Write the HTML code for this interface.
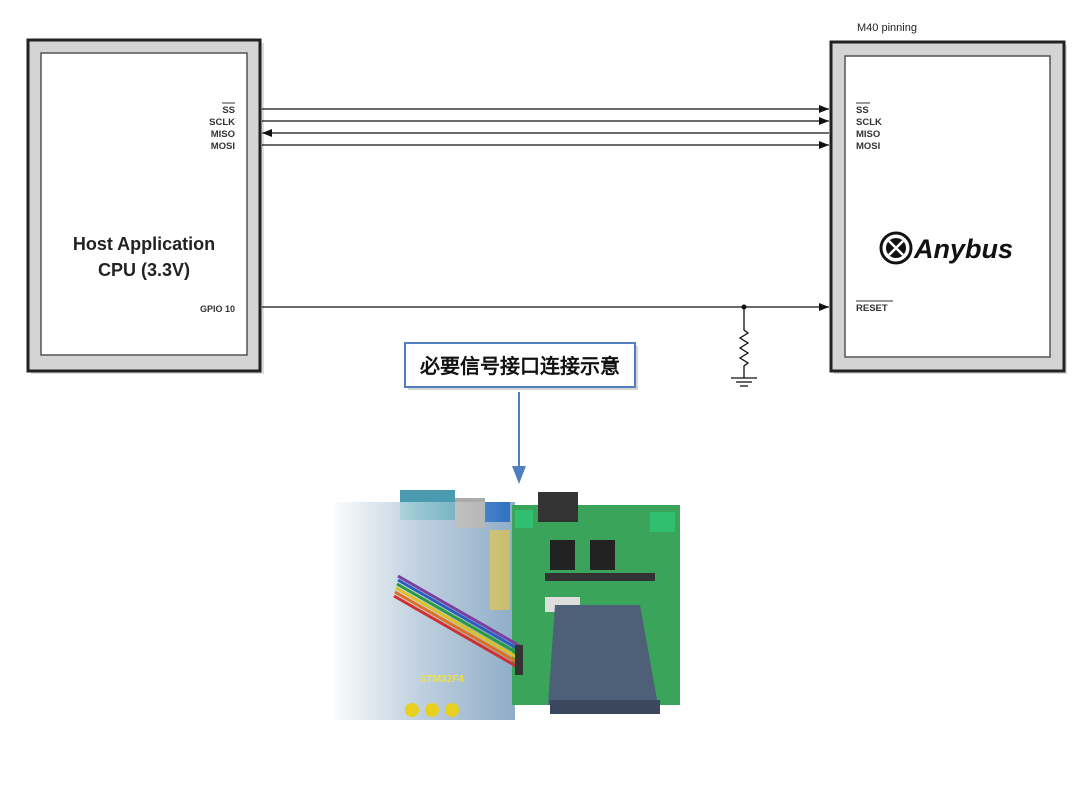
<!DOCTYPE html>
<html><head><meta charset="utf-8"><style>
html,body{margin:0;padding:0;background:#fff;}
svg{display:block;}
text{font-family:"Liberation Sans",Arial,sans-serif;}
</style></head><body>
<svg width="1080" height="787" viewBox="0 0 1080 787" xmlns="http://www.w3.org/2000/svg">
<defs>
<marker id="ar" markerWidth="10" markerHeight="8" refX="10" refY="4" orient="auto" markerUnits="userSpaceOnUse">
<path d="M0,0 L10,4 L0,8 z" fill="#111"/></marker>
<linearGradient id="fade" x1="0" x2="1" y1="0" y2="0">
<stop offset="0" stop-color="#fff" stop-opacity="0.95"/>
<stop offset="0.45" stop-color="#fff" stop-opacity="0.45"/>
<stop offset="1" stop-color="#fff" stop-opacity="0"/>
</linearGradient>
</defs>
<!-- left box -->
<rect x="31" y="43" width="233" height="331" fill="#bbb" opacity="0.5"/>
<rect x="28" y="40" width="232" height="331" fill="#d4d4d4" stroke="#222" stroke-width="3"/>
<rect x="41" y="53" width="206" height="302" fill="#fff" stroke="#555" stroke-width="1.5"/>
<g font-size="9.5" font-weight="bold" fill="#333" text-anchor="end">
<text x="235" y="113">SS</text><line x1="222" y1="103" x2="235" y2="103" stroke="#333" stroke-width="1"/>
<text x="235" y="125">SCLK</text>
<text x="235" y="137">MISO</text>
<text x="235" y="149">MOSI</text>
<text x="235" y="312" font-size="9">GPIO 10</text>
</g>
<text x="144" y="250" font-size="18" font-weight="bold" fill="#222" text-anchor="middle">Host Application</text>
<text x="144" y="276" font-size="18" font-weight="bold" fill="#222" text-anchor="middle">CPU (3.3V)</text>
<!-- right box -->
<text x="857" y="31" font-size="11" fill="#222">M40 pinning</text>
<rect x="834" y="45" width="233" height="329" fill="#bbb" opacity="0.5"/>
<rect x="831" y="42" width="233" height="329" fill="#d4d4d4" stroke="#222" stroke-width="3"/>
<rect x="845" y="56" width="205" height="301" fill="#fff" stroke="#555" stroke-width="1.5"/>
<g font-size="9.5" font-weight="bold" fill="#333">
<text x="856" y="113">SS</text><line x1="856" y1="103" x2="870" y2="103" stroke="#333" stroke-width="1"/>
<text x="856" y="125">SCLK</text>
<text x="856" y="137">MISO</text>
<text x="856" y="149">MOSI</text>
<text x="856" y="311">RESET</text><line x1="856" y1="301" x2="893" y2="301" stroke="#333" stroke-width="1"/>
</g>
<!-- anybus logo -->
<circle cx="896" cy="248" r="15" fill="#fff" stroke="#111" stroke-width="3"/>
<circle cx="896" cy="248" r="10" fill="#111"/>
<path d="M889,241 L903,255 M903,241 L889,255" stroke="#fff" stroke-width="2.5"/>
<text x="914" y="258" font-size="27" font-weight="bold" font-style="italic" fill="#111">Anybus</text>
<!-- lines -->
<g stroke="#111" stroke-width="1.3" fill="none">
<line x1="262" y1="109" x2="829" y2="109" marker-end="url(#ar)"/>
<line x1="262" y1="121" x2="829" y2="121" marker-end="url(#ar)"/>
<line x1="829" y1="133" x2="262" y2="133" marker-end="url(#ar)"/>
<line x1="262" y1="145" x2="829" y2="145" marker-end="url(#ar)"/>
<line x1="262" y1="307" x2="829" y2="307" marker-end="url(#ar)"/>
<polyline points="744,307 744,330 748,333 740,338 748,343 740,348 748,353 740,358 748,363 744,366 744,378"/>
<line x1="731" y1="378" x2="757" y2="378"/>
<line x1="736" y1="382" x2="752" y2="382"/>
<line x1="740" y1="386" x2="748" y2="386"/>
</g>
<circle cx="744" cy="307" r="2.5" fill="#111"/>
<!-- label -->
<rect x="408" y="346" width="230" height="44" fill="#999" opacity="0.4"/>
<rect x="405" y="343" width="230" height="44" fill="#fff" stroke="#4f7fbf" stroke-width="2"/>
<text x="520" y="373" font-size="20" font-weight="bold" fill="#111" text-anchor="middle" font-family="'Liberation Sans','Noto Sans CJK SC',sans-serif">必要信号接口连接示意</text>
<line x1="519" y1="392" x2="519" y2="468" stroke="#4f7fbf" stroke-width="2"/>
<path d="M512,466 L526,466 L519,484 z" fill="#4f7fbf"/>
<!-- photo approx -->
<rect x="335" y="502" width="180" height="218" fill="#8fadc8"/>
<rect x="400" y="490" width="55" height="30" fill="#4a9ab0"/>
<rect x="455" y="498" width="30" height="30" fill="#aaa"/>
<rect x="485" y="502" width="25" height="20" fill="#2a6fc0"/>
<rect x="490" y="530" width="20" height="80" fill="#e0c040" opacity="0.7"/>
<rect x="335" y="502" width="180" height="218" fill="url(#fade)"/>
<rect x="512" y="505" width="168" height="200" fill="#3aa55a"/>
<rect x="538" y="492" width="40" height="30" fill="#333"/>
<rect x="550" y="540" width="25" height="30" fill="#222"/>
<rect x="590" y="540" width="25" height="30" fill="#222"/>
<rect x="545" y="573" width="110" height="8" fill="#333"/>
<rect x="515" y="510" width="18" height="18" fill="#2fbf6f"/>
<rect x="650" y="512" width="25" height="20" fill="#2fbf6f"/>
<rect x="545" y="597" width="35" height="15" fill="#ddd"/>
<path d="M555,605 L640,605 L658,705 L548,705 z" fill="#4e5f78"/>
<rect x="550" y="700" width="110" height="14" fill="#3a475c"/>
<g stroke-width="3" fill="none">
<path d="M398,576 L520,646" stroke="#7a3fa0"/>
<path d="M398,580 L520,650" stroke="#2a5fc0"/>
<path d="M397,584 L519,654" stroke="#2a9a40"/>
<path d="M396,588 L518,658" stroke="#e0c020"/>
<path d="M395,592 L517,662" stroke="#e07020"/>
<path d="M394,596 L516,666" stroke="#d03030"/>
</g>
<rect x="515" y="645" width="8" height="30" fill="#333"/>
<circle cx="412" cy="710" r="7" fill="#e8d020"/>
<circle cx="432" cy="710" r="7" fill="#e8d020"/>
<circle cx="452" cy="710" r="7" fill="#e8d020"/>
<text x="420" y="682" font-size="10" font-weight="bold" fill="#f0e040">STM32F4</text>
</svg>
</body></html>
